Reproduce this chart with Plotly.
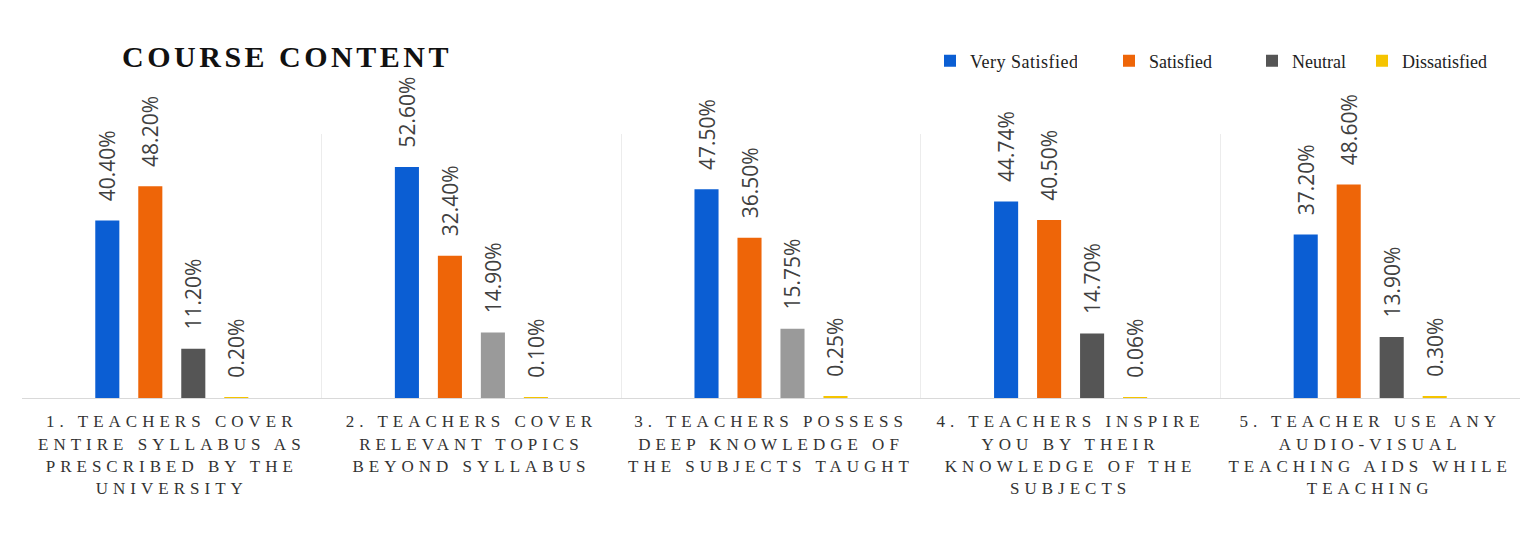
import plotly.graph_objects as go

# ---- data ----
categories = ["Q1", "Q2", "Q3", "Q4", "Q5"]
tick_labels = [
    "1. TEACHERS COVER<br>ENTIRE SYLLABUS AS<br>PRESCRIBED BY THE<br>UNIVERSITY",
    "2. TEACHERS COVER<br>RELEVANT TOPICS<br>BEYOND SYLLABUS",
    "3. TEACHERS POSSESS<br>DEEP KNOWLEDGE OF<br>THE SUBJECTS TAUGHT",
    "4. TEACHERS INSPIRE<br>YOU BY THEIR<br>KNOWLEDGE OF THE<br>SUBJECTS",
    "5. TEACHER USE ANY<br>AUDIO-VISUAL<br>TEACHING AIDS WHILE<br>TEACHING",
]
series_names = ["Very Satisfied", "Satisfied", "Neutral", "Dissatisfied"]
very_satisfied = [40.40, 52.60, 47.50, 44.74, 37.20]
satisfied = [48.20, 32.40, 36.50, 40.50, 48.60]
neutral = [11.20, 14.90, 15.75, 14.70, 13.90]
dissatisfied = [0.20, 0.10, 0.25, 0.06, 0.30]

# ---- styles ----
W, H = 1539, 536
blue = "#0B5ED3"
orange = "#EE6508"
neutral_colors = ["#555555", "#9A9A9A", "#9A9A9A", "#555555", "#555555"]
yellow = "#F5C400"
label_font = dict(family="Open Sans", size=21, color="#404040")
serif = "Liberation Serif"

fig = go.Figure()
series = [very_satisfied, satisfied, neutral, dissatisfied]
colors = [blue, orange, neutral_colors, yellow]
legend_ids = ["legend", "legend2", "legend3", "legend4"]
for name, vals, col, lg in zip(series_names, series, colors, legend_ids):
    fig.add_trace(go.Bar(
        x=categories, y=vals, name=name,
        marker=dict(color=col, line=dict(width=0)),
        text=vals,
        texttemplate="\u00a0\u00a0\u00a0%{y:.2f}%",
        textposition="outside",
        textangle=-90,
        textfont=label_font,
        constraintext="none",
        cliponaxis=False,
        legend=lg,
    ))

legend_text_px = [966, 1145, 1288, 1398]
legend_common = dict(
    xref="container", yref="container", xanchor="left", yanchor="middle",
    y=1 - 61 / H, orientation="h", bgcolor="rgba(0,0,0,0)",
    font=dict(family=serif, size=18, color="#222222"), itemwidth=30,
)
legend_layout = {}
for lg, px in zip(legend_ids, legend_text_px):
    legend_layout[lg] = dict(legend_common, x=(px - 36) / W)

fig.update_layout(
    width=W, height=H,
    margin=dict(l=22, r=19, t=134, b=138),
    paper_bgcolor="white", plot_bgcolor="white",
    barmode="group", bargap=0.426, bargroupgap=0.44,
    title=dict(
        text="<b>COURSE CONTENT</b>",
        font=dict(family=serif, size=30, color="#111111"),
        xref="container", yref="container",
        x=287 / W, xanchor="center", y=1 - 56 / H, yanchor="middle",
    ),
    showlegend=True,
    **legend_layout,
)
fig.update_xaxes(
    tickvals=categories, ticktext=tick_labels,
    tickfont=dict(family=serif, size=17, color="#333333"),
    tickson="boundaries", ticks="", ticklabelstandoff=8,
    showgrid=True, gridcolor="#ececec", gridwidth=1,
    showline=True, linecolor="#d9d9d9", linewidth=1,
    zeroline=False,
)
fig.update_yaxes(range=[0, 60.1], visible=False, showgrid=False)

post = """
document.body.style.margin = '0';
var gd = document.getElementById('{plot_id}');
function ls(){
  gd.querySelectorAll('.xtick text').forEach(function(t){t.style.letterSpacing='5px';});
  gd.querySelectorAll('.gtitle').forEach(function(t){t.style.letterSpacing='3.5px';});
  gd.querySelectorAll('.legendtext').forEach(function(t){t.style.letterSpacing='0.5px';});
}
ls();
gd.on('plotly_afterplot', ls);
"""
fig.write_html("out.html", post_script=post, config={"displayModeBar": False})
